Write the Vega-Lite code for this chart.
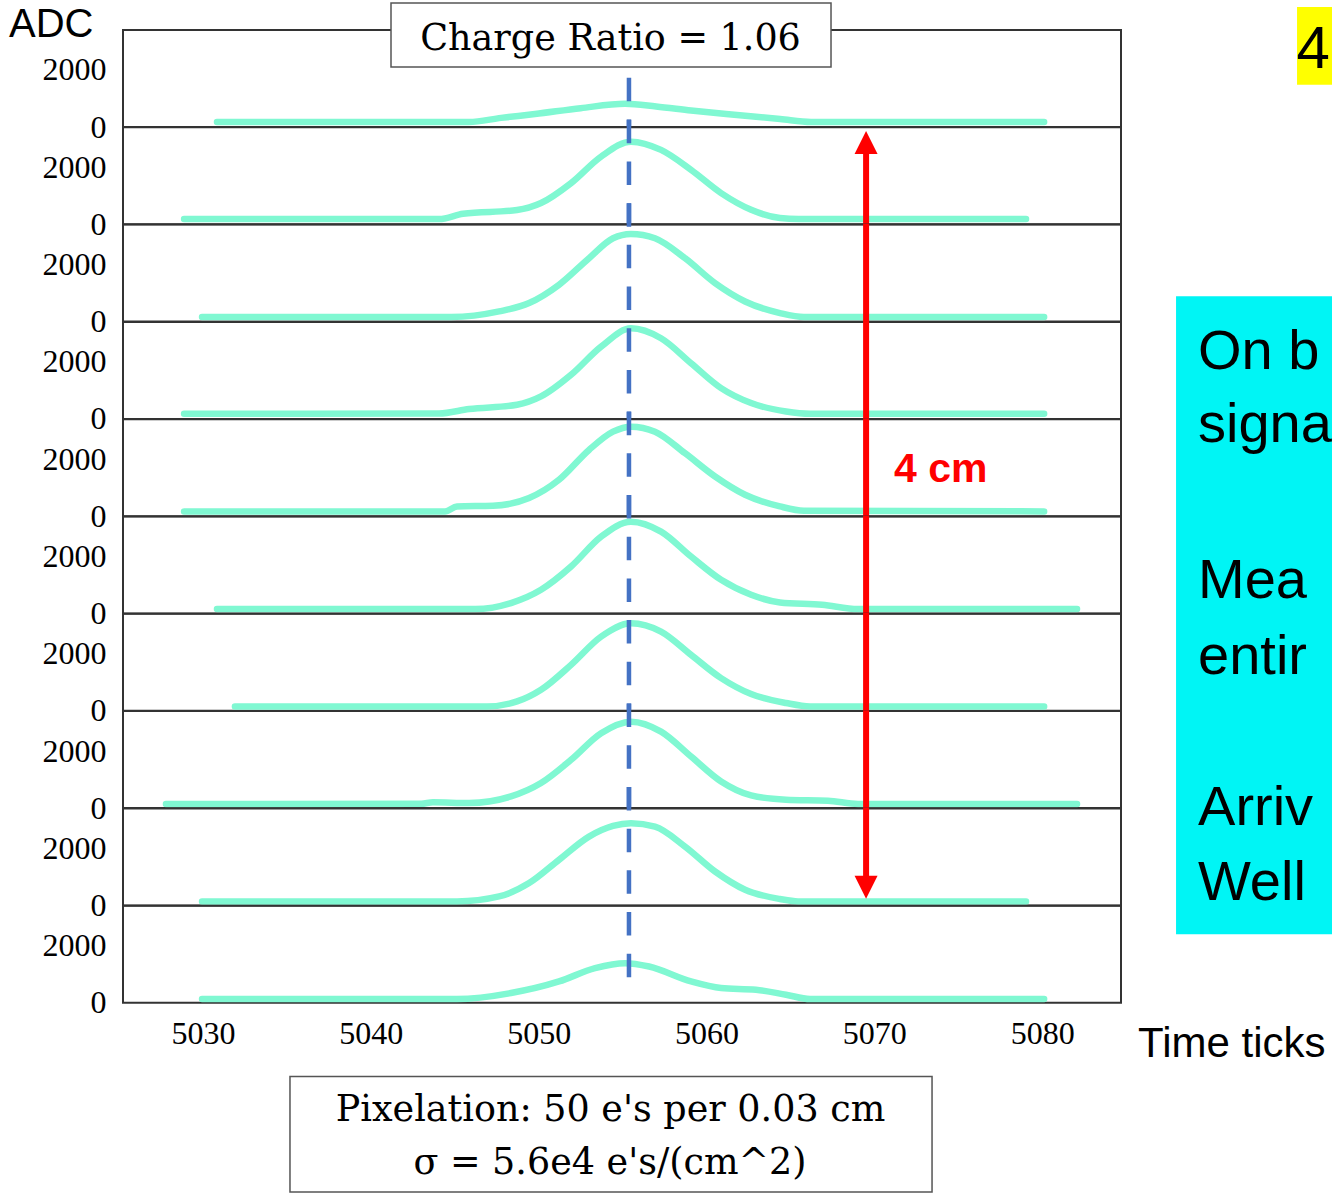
{
 "$schema": "https://vega.github.io/schema/vega-lite/v6.json",
 "padding": {"left": 8, "top": 1, "right": 0, "bottom": 0},
 "autosize": {"type": "pad"},
 "background": "white",
 "bounds": "flush",
 "spacing": {"row": 0.3, "column": 0},
 "data": {"values": [
  {"p":"p01","k":"w","t":5030.83,"a":175},{"p":"p01","k":"w","t":5045.85,"a":175},{"p":"p01","k":"w","t":5047.76,"a":320},{"p":"p01","k":"w","t":5049.78,"a":454},{"p":"p01","k":"w","t":5052.5,"a":660},{"p":"p01","k":"w","t":5055.15,"a":814},{"p":"p01","k":"w","t":5057.0,"a":720},{"p":"p01","k":"w","t":5059.08,"a":580},{"p":"p01","k":"w","t":5061.17,"a":454},{"p":"p01","k":"w","t":5064.39,"a":280},{"p":"p01","k":"w","t":5066.23,"a":175},{"p":"p01","k":"w","t":5080.12,"a":175},
  {"p":"p02","k":"w","t":5028.87,"a":185},{"p":"p02","k":"w","t":5044.06,"a":185},{"p":"p02","k":"w","t":5045.49,"a":369},{"p":"p02","k":"w","t":5048.71,"a":500},{"p":"p02","k":"w","t":5050.14,"a":744},{"p":"p02","k":"w","t":5051.93,"a":1443},{"p":"p02","k":"w","t":5053.72,"a":2372},{"p":"p02","k":"w","t":5055.5,"a":2897},{"p":"p02","k":"w","t":5057.29,"a":2607},{"p":"p02","k":"w","t":5059.08,"a":1908},{"p":"p02","k":"w","t":5060.87,"a":1094},{"p":"p02","k":"w","t":5062.66,"a":510},{"p":"p02","k":"w","t":5064.38,"a":220},{"p":"p02","k":"w","t":5065.5,"a":185},{"p":"p02","k":"w","t":5079.04,"a":185},
  {"p":"p03","k":"w","t":5029.94,"a":161},{"p":"p03","k":"w","t":5044.78,"a":161},{"p":"p03","k":"w","t":5047.64,"a":357},{"p":"p03","k":"w","t":5049.43,"a":650},{"p":"p03","k":"w","t":5051.21,"a":1289},{"p":"p03","k":"w","t":5053.0,"a":2222},{"p":"p03","k":"w","t":5054.43,"a":2921},{"p":"p03","k":"w","t":5055.5,"a":3071},{"p":"p03","k":"w","t":5056.93,"a":2921},{"p":"p03","k":"w","t":5058.72,"a":2222},{"p":"p03","k":"w","t":5060.51,"a":1349},{"p":"p03","k":"w","t":5062.3,"a":706},{"p":"p03","k":"w","t":5064.38,"a":300},{"p":"p03","k":"w","t":5065.81,"a":161},{"p":"p03","k":"w","t":5080.12,"a":161},
  {"p":"p04","k":"w","t":5028.87,"a":182},{"p":"p04","k":"w","t":5044.06,"a":190},{"p":"p04","k":"w","t":5045.85,"a":346},{"p":"p04","k":"w","t":5048.71,"a":496},{"p":"p04","k":"w","t":5050.14,"a":786},{"p":"p04","k":"w","t":5051.93,"a":1544},{"p":"p04","k":"w","t":5053.72,"a":2533},{"p":"p04","k":"w","t":5055.5,"a":3176},{"p":"p04","k":"w","t":5057.29,"a":2827},{"p":"p04","k":"w","t":5059.08,"a":1953},{"p":"p04","k":"w","t":5060.87,"a":1080},{"p":"p04","k":"w","t":5062.66,"a":556},{"p":"p04","k":"w","t":5064.74,"a":262},{"p":"p04","k":"w","t":5066.17,"a":182},{"p":"p04","k":"w","t":5080.12,"a":182},
  {"p":"p05","k":"w","t":5028.87,"a":168},{"p":"p05","k":"w","t":5044.42,"a":168},{"p":"p05","k":"w","t":5045.13,"a":342},{"p":"p05","k":"w","t":5047.28,"a":367},{"p":"p05","k":"w","t":5049.43,"a":636},{"p":"p05","k":"w","t":5051.21,"a":1275},{"p":"p05","k":"w","t":5053.0,"a":2323},{"p":"p05","k":"w","t":5054.43,"a":2963},{"p":"p05","k":"w","t":5055.5,"a":3138},{"p":"p05","k":"w","t":5056.93,"a":2963},{"p":"p05","k":"w","t":5058.72,"a":2208},{"p":"p05","k":"w","t":5060.51,"a":1391},{"p":"p05","k":"w","t":5062.3,"a":751},{"p":"p05","k":"w","t":5064.38,"a":342},{"p":"p05","k":"w","t":5065.81,"a":192},{"p":"p05","k":"w","t":5080.12,"a":168},
  {"p":"p06","k":"w","t":5030.83,"a":157},{"p":"p06","k":"w","t":5046.21,"a":157},{"p":"p06","k":"w","t":5048.35,"a":367},{"p":"p06","k":"w","t":5050.14,"a":832},{"p":"p06","k":"w","t":5051.93,"a":1646},{"p":"p06","k":"w","t":5053.72,"a":2694},{"p":"p06","k":"w","t":5055.5,"a":3218},{"p":"p06","k":"w","t":5057.29,"a":2869},{"p":"p06","k":"w","t":5059.08,"a":1995},{"p":"p06","k":"w","t":5060.87,"a":1181},{"p":"p06","k":"w","t":5062.66,"a":657},{"p":"p06","k":"w","t":5064.38,"a":388},{"p":"p06","k":"w","t":5066.89,"a":307},{"p":"p06","k":"w","t":5069.03,"a":157},{"p":"p06","k":"w","t":5082.08,"a":157},
  {"p":"p07","k":"w","t":5031.9,"a":154},{"p":"p07","k":"w","t":5046.92,"a":154},{"p":"p07","k":"w","t":5048.71,"a":328},{"p":"p07","k":"w","t":5050.14,"a":737},{"p":"p07","k":"w","t":5051.93,"a":1611},{"p":"p07","k":"w","t":5053.72,"a":2600},{"p":"p07","k":"w","t":5055.5,"a":3068},{"p":"p07","k":"w","t":5057.29,"a":2775},{"p":"p07","k":"w","t":5059.08,"a":1960},{"p":"p07","k":"w","t":5060.87,"a":1146},{"p":"p07","k":"w","t":5062.66,"a":587},{"p":"p07","k":"w","t":5064.74,"a":273},{"p":"p07","k":"w","t":5066.17,"a":154},{"p":"p07","k":"w","t":5080.12,"a":154},
  {"p":"p08","k":"w","t":5027.79,"a":143},{"p":"p08","k":"w","t":5043.0,"a":150},{"p":"p08","k":"w","t":5043.7,"a":205},{"p":"p08","k":"w","t":5045.85,"a":178},{"p":"p08","k":"w","t":5048.35,"a":409},{"p":"p08","k":"w","t":5050.14,"a":877},{"p":"p08","k":"w","t":5051.93,"a":1691},{"p":"p08","k":"w","t":5053.72,"a":2624},{"p":"p08","k":"w","t":5055.5,"a":3029},{"p":"p08","k":"w","t":5057.29,"a":2680},{"p":"p08","k":"w","t":5059.08,"a":1806},{"p":"p08","k":"w","t":5060.87,"a":933},{"p":"p08","k":"w","t":5062.66,"a":444},{"p":"p08","k":"w","t":5064.74,"a":293},{"p":"p08","k":"w","t":5067.24,"a":259},{"p":"p08","k":"w","t":5069.03,"a":143},{"p":"p08","k":"w","t":5082.08,"a":143},
  {"p":"p09","k":"w","t":5029.94,"a":140},{"p":"p09","k":"w","t":5045.13,"a":140},{"p":"p09","k":"w","t":5047.64,"a":314},{"p":"p09","k":"w","t":5049.43,"a":783},{"p":"p09","k":"w","t":5051.21,"a":1597},{"p":"p09","k":"w","t":5053.0,"a":2411},{"p":"p09","k":"w","t":5054.43,"a":2785},{"p":"p09","k":"w","t":5055.5,"a":2879},{"p":"p09","k":"w","t":5056.93,"a":2760},{"p":"p09","k":"w","t":5058.72,"a":2062},{"p":"p09","k":"w","t":5060.51,"a":1188},{"p":"p09","k":"w","t":5062.3,"a":549},{"p":"p09","k":"w","t":5064.38,"a":224},{"p":"p09","k":"w","t":5065.46,"a":140},{"p":"p09","k":"w","t":5079.04,"a":140},
  {"p":"p10","k":"w","t":5029.94,"a":129},{"p":"p10","k":"w","t":5045.13,"a":129},{"p":"p10","k":"w","t":5048.35,"a":339},{"p":"p10","k":"w","t":5051.21,"a":744},{"p":"p10","k":"w","t":5053.36,"a":1212},{"p":"p10","k":"w","t":5055.15,"a":1387},{"p":"p10","k":"w","t":5056.58,"a":1268},{"p":"p10","k":"w","t":5059.08,"a":744},{"p":"p10","k":"w","t":5060.87,"a":514},{"p":"p10","k":"w","t":5062.95,"a":454},{"p":"p10","k":"w","t":5064.74,"a":280},{"p":"p10","k":"w","t":5066.17,"a":129},{"p":"p10","k":"w","t":5080.12,"a":129},
  {"p":"p01","k":"b","t":5055.38,"a":1723,"a2":0},{"p":"p02","k":"b","t":5055.38,"a":3665,"a2":0},{"p":"p03","k":"b","t":5055.38,"a":4151,"a2":0},{"p":"p04","k":"b","t":5055.38,"a":3180,"a2":0},{"p":"p05","k":"b","t":5055.38,"a":3665,"a2":0},{"p":"p06","k":"b","t":5055.38,"a":4151,"a2":0},{"p":"p07","k":"b","t":5055.38,"a":3180,"a2":0},{"p":"p08","k":"b","t":5055.38,"a":3665,"a2":0},{"p":"p09","k":"b","t":5055.38,"a":4151,"a2":0},{"p":"p10","k":"b","t":5055.38,"a":3180,"a2":874},
  {"p":"p02","k":"r","t":5069.51,"a":2869,"a2":-30},{"p":"p03","k":"r","t":5069.51,"a":3430,"a2":-30},{"p":"p04","k":"r","t":5069.51,"a":3430,"a2":-30},{"p":"p05","k":"r","t":5069.51,"a":3430,"a2":-30},{"p":"p06","k":"r","t":5069.51,"a":3430,"a2":-30},{"p":"p07","k":"r","t":5069.51,"a":3430,"a2":-30},{"p":"p08","k":"r","t":5069.51,"a":3430,"a2":-30},{"p":"p09","k":"r","t":5069.51,"a":3430,"a2":636},
  {"p":"p02","k":"up","t":5069.51,"a":2869},{"p":"p09","k":"dn","t":5069.51,"a":636},
  {"p":"p01","k":"fb","t":5041.2,"t2":5067.42,"a":4343,"a2":2107},
  {"p":"p10","k":"fb","t":5035.18,"t2":5073.44,"a":-2586,"a2":-6639},
  {"p":"p01","k":"cy","t":5087.98,"t2":5097.34,"a":-5929,"a2":-28291},
  {"p":"p01","k":"ye","t":5095.19,"t2":5097.34,"a":4203,"a2":1478},
  {"p":"p01","k":"ts1","t":5018.44,"a":3155,"s":"ADC"},
  {"p":"p10","k":"ts2","t":5085.72,"a":-1887,"s":"Time ticks"},
  {"p":"p01","k":"tser","t":5054.28,"a":2701,"s":"Charge Ratio = 1.06"},
  {"p":"p10","k":"tser","t":5054.28,"a":-4158,"s":"Pixelation: 50 e's per 0.03 cm"},
  {"p":"p10","k":"tser","t":5054.25,"a":-5991,"s":"σ = 5.6e4 e's/(cm^2)"},
  {"p":"p05","k":"tred","t":5071.18,"a":1205,"s":"4 cm"},
  {"p":"p01","k":"tcy","t":5089.29,"a":-8480,"s":"On bo"},
  {"p":"p01","k":"tcy","t":5089.29,"a":-11031,"s":"signa"},
  {"p":"p01","k":"tcy","t":5089.29,"a":-16516,"s":"Meas"},
  {"p":"p01","k":"tcy","t":5089.29,"a":-19172,"s":"entire"},
  {"p":"p01","k":"tcy","t":5089.29,"a":-24483,"s":"Arriva"},
  {"p":"p01","k":"tcy","t":5089.29,"a":-27103,"s":"Well a"},
  {"p":"p01","k":"t4","t":5096.15,"a":2072,"s":"4"}
 ]},
 "facet": {"row": {"field": "p", "type": "ordinal", "title": null, "header": {"labels": false, "title": null}}},
 "spec": {
  "width": 998,
  "height": 97,
  "encoding": {
   "x": {"field": "t", "type": "quantitative", "scale": {"domain": [5025.23, 5084.7], "nice": false, "zero": false}, "axis": {"values": [5030, 5040, 5050, 5060, 5070, 5080], "format": "d", "labelPadding": 15, "labelFlush": false, "title": null}},
   "y": {"field": "a", "type": "quantitative", "scale": {"domain": [0, 3400], "nice": false, "zero": false}, "axis": {"values": [0, 2000], "format": "d", "labelPadding": 17, "title": null}}
  },
  "layer": [
   {"transform": [{"filter": "datum.k == 'fb'"}], "mark": {"type": "rect", "fill": "white", "stroke": "#555", "strokeWidth": 1.5}, "encoding": {"x2": {"field": "t2"}, "y2": {"field": "a2"}}},
   {"transform": [{"filter": "datum.k == 'cy'"}], "mark": {"type": "rect", "fill": "#00F5F5", "strokeWidth": 0}, "encoding": {"x2": {"field": "t2"}, "y2": {"field": "a2"}}},
   {"transform": [{"filter": "datum.k == 'ye'"}], "mark": {"type": "rect", "fill": "#FFFF00", "strokeWidth": 0}, "encoding": {"x2": {"field": "t2"}, "y2": {"field": "a2"}}},
   {"transform": [{"filter": "datum.k == 'w'"}], "mark": {"type": "line", "color": "#80F8D2", "strokeWidth": 6.5, "interpolate": "monotone", "strokeCap": "round"}},
   {"transform": [{"filter": "datum.k == 'b'"}], "mark": {"type": "rule", "color": "#4472C4", "strokeWidth": 4.5, "strokeDash": [23.5, 18.2], "strokeCap": "butt"}, "encoding": {"y2": {"field": "a2"}}},
   {"transform": [{"filter": "datum.k == 'r'"}], "mark": {"type": "rule", "color": "#FF0000", "strokeWidth": 6, "strokeCap": "butt"}, "encoding": {"y2": {"field": "a2"}}},
   {"transform": [{"filter": "datum.k == 'up'"}], "mark": {"type": "point", "shape": "M0,-1L1,1L-1,1Z", "size": 529, "filled": true, "color": "#FF0000", "opacity": 1, "strokeWidth": 0}},
   {"transform": [{"filter": "datum.k == 'dn'"}], "mark": {"type": "point", "shape": "M0,1L1,-1L-1,-1Z", "size": 529, "filled": true, "color": "#FF0000", "opacity": 1, "strokeWidth": 0}},
   {"transform": [{"filter": "datum.k == 'ts1'"}], "mark": {"type": "text", "align": "left", "baseline": "alphabetic", "font": "Liberation Sans", "fontSize": 40, "color": "#000"}, "encoding": {"text": {"field": "s"}}},
   {"transform": [{"filter": "datum.k == 'ts2'"}], "mark": {"type": "text", "align": "left", "baseline": "alphabetic", "font": "Liberation Sans", "fontSize": 42, "color": "#000"}, "encoding": {"text": {"field": "s"}}},
   {"transform": [{"filter": "datum.k == 'tser'"}], "mark": {"type": "text", "align": "center", "baseline": "alphabetic", "font": "DejaVu Serif", "fontSize": 36.5, "color": "#000"}, "encoding": {"text": {"field": "s"}}},
   {"transform": [{"filter": "datum.k == 'tred'"}], "mark": {"type": "text", "align": "left", "baseline": "alphabetic", "font": "Liberation Sans", "fontWeight": "bold", "fontSize": 41, "color": "#FF0000"}, "encoding": {"text": {"field": "s"}}},
   {"transform": [{"filter": "datum.k == 'tcy'"}], "mark": {"type": "text", "align": "left", "baseline": "alphabetic", "font": "Liberation Sans", "fontSize": 56, "color": "#000", "limit": 135, "ellipsis": "\u200b"}, "encoding": {"text": {"field": "s"}}},
   {"transform": [{"filter": "datum.k == 't4'"}], "mark": {"type": "text", "align": "center", "baseline": "alphabetic", "font": "Liberation Sans", "fontSize": 60, "color": "#000"}, "encoding": {"text": {"field": "s"}}}
  ]
 },
 "config": {
  "view": {"stroke": "#333", "strokeWidth": 2},
  "axis": {"labelFont": "Liberation Serif", "labelFontSize": 32, "labelColor": "#000", "ticks": false, "domain": false, "grid": false}
 }
}
